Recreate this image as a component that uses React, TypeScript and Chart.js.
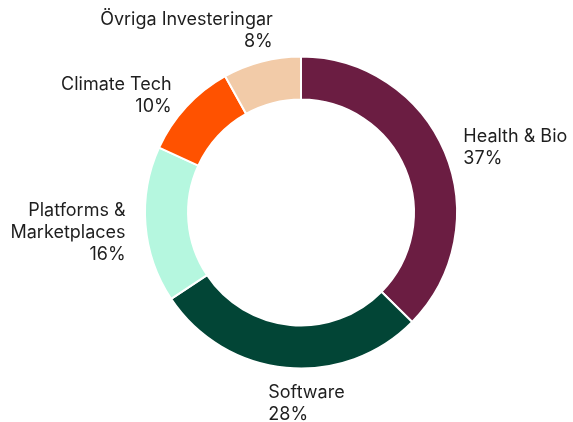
import React, { useEffect, useRef } from "react";
import { Chart, registerables } from "chart.js";

Chart.register(...registerables);

const categories: (string | string[])[] = [
  "Health & Bio",
  "Software",
  ["Platforms &", "Marketplaces"],
  "Climate Tech",
  "Övriga Investeringar",
];
const shares: number[] = [37, 28, 16, 10, 8];
const sliceColors: string[] = ["#6B1D42", "#024536", "#B5F7DF", "#FF5200", "#F2CBA8"];

const FONT = "400 18px Inter, 'DejaVu Sans', sans-serif";
const LINE_H = 22;

const outsideLabels = {
  id: "outsideLabels",
  afterDatasetsDraw(chart: any) {
    const ctx = chart.ctx as CanvasRenderingContext2D;
    const meta = chart.getDatasetMeta(0);
    const data = chart.data.datasets[0].data as number[];
    ctx.save();
    ctx.font = FONT;
    ctx.fillStyle = "#1e1e1e";
    ctx.textBaseline = "middle";
    meta.data.forEach((arc: any, i: number) => {
      const { x, y, startAngle, endAngle, outerRadius } = arc.getProps(
        ["x", "y", "startAngle", "endAngle", "outerRadius"],
        true
      );
      const mid = (startAngle + endAngle) / 2;
      const vx = Math.cos(mid);
      const vy = Math.sin(mid);
      const r = outerRadius + 20;
      const px = x + r * vx;
      const py = y + r * vy;
      const raw = chart.data.labels[i];
      const nameLines: string[] = Array.isArray(raw) ? raw : [raw];
      const lines = [...nameLines, `${data[i]}%`];
      const n = lines.length;
      const blockH = n * LINE_H;
      const align: CanvasTextAlign = vx < -0.3 || (vy < 0 && vx < 0) ? "right" : "left";
      let ex = px;
      let cy = py + 3;
      if (Math.abs(vx) < 0.35) {
        ex = px + (align === "right" ? 16 : -16);
        cy = py + 2 + Math.sign(vy) * (blockH / 2 - 8);
      }
      if (vx < -0.9) cy += 3;
      ctx.textAlign = align;
      lines.forEach((ln, k) => {
        ctx.fillText(ln, ex, cy + (k - (n - 1) / 2) * LINE_H);
      });
    });
    ctx.restore();
  },
};

export default function App() {
  const ref = useRef<HTMLCanvasElement | null>(null);
  useEffect(() => {
    if (!ref.current) return;
    const chart = new Chart(ref.current, {
      type: "doughnut",
      data: {
        labels: categories as any,
        datasets: [
          {
            data: shares,
            backgroundColor: sliceColors,
            borderColor: "#ffffff",
            borderWidth: 2,
            hoverOffset: 0,
          },
        ],
      },
      options: {
        responsive: false,
        animation: false,
        cutout: "72.4%",
        layout: { padding: { top: 55.5, bottom: 52.5, left: 144, right: 115 } },
        plugins: {
          legend: { display: false },
          tooltip: { enabled: false },
        },
      },
      plugins: [outsideLabels],
    });
    return () => chart.destroy();
  }, []);
  return (
    <div style={{ position: "fixed", left: 0, top: 0, width: 573, height: 422, background: "#fff" }}>
      <canvas ref={ref} width={573} height={422} style={{ width: 573, height: 422, display: "block" }} />
    </div>
  );
}
